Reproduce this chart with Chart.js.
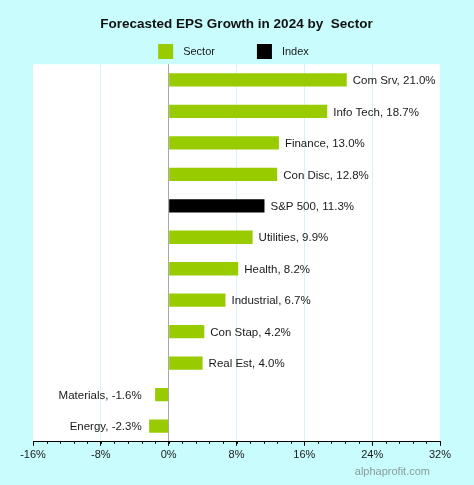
<!DOCTYPE html>
<html>
<head>
<meta charset="utf-8">
<script src="https://cdn.jsdelivr.net/npm/chart.js@4.4.1/dist/chart.umd.min.js"></script>
<style>
  html, body { margin: 0; padding: 0; background: #c8fcfd; }
  canvas { display: block; }
</style>
</head>
<body>
<canvas id="eps-chart" width="474" height="485"></canvas>
<script>
// ------------------------------------------------------
// @Data
// ------------------------------------------------------
const categories = ['Com Srv', 'Info Tech', 'Finance', 'Con Disc', 'S&P 500', 'Utilities',
                    'Health', 'Industrial', 'Con Stap', 'Real Est', 'Materials', 'Energy'];
const growth     = [21.0, 18.7, 13.0, 12.8, 11.3, 9.9, 8.2, 6.7, 4.2, 4.0, -1.6, -2.3];
const indexName  = 'S&P 500';
const xTicks     = [-16, -8, 0, 8, 16, 24, 32];

const sectorData = growth.map((v, i) => categories[i] === indexName ? null : v);
const indexData  = growth.map((v, i) => categories[i] === indexName ? v : null);

const COLORS = {
  sector : '#99cc00',
  index  : '#000000',
  grid   : '#d6f3fb',
  zero   : '#a8a8a8',
  text   : '#1a1a1a',
};

// white plot area on the cyan page
const plotBackground = {
  id: 'plotBackground',
  beforeDraw(chart) {
    const { ctx, chartArea: a } = chart;
    ctx.save();
    ctx.fillStyle = '#ffffff';
    ctx.fillRect(a.left, a.top, a.right - a.left, a.bottom - a.top);
    ctx.restore();
  },
};

// minor ticks under the x axis + watermark + legend
const extras = {
  id: 'extras',
  afterDraw(chart) {
    const { ctx, chartArea: a } = chart;
    const x = chart.scales.x;
    ctx.save();

    // minor ticks, five per major step
    ctx.strokeStyle = '#000';
    ctx.lineWidth = 1;
    const minor = 8 / 5;
    for (let v = x.min; v <= x.max + 0.001; v += minor) {
      const px = Math.round(x.getPixelForValue(v)) + 0.5;
      ctx.beginPath();
      ctx.moveTo(px, a.bottom);
      ctx.lineTo(px, a.bottom + 2);
      ctx.stroke();
    }

    // legend
    ctx.font = '11px Arial, "Liberation Sans", sans-serif';
    ctx.textBaseline = 'middle';
    const items = chart.data.datasets.map(ds => ({ text: ds.label, color: ds.backgroundColor,
      w: 15 + 10 + ctx.measureText(ds.label).width }));
    const gap = 42;
    const total = items.reduce((s, it) => s + it.w, 0) + gap * (items.length - 1);
    let lx = (a.left + a.right) / 2 - 3 - total / 2;
    const ly = 44;
    items.forEach(it => {
      ctx.fillStyle = it.color;
      ctx.fillRect(lx, ly, 15, 15);
      ctx.fillStyle = COLORS.text;
      ctx.textAlign = 'left';
      ctx.fillText(it.text, lx + 25, ly + 8);
      lx += it.w + gap;
    });

    // watermark
    ctx.fillStyle = '#8c9a9a';
    ctx.textAlign = 'right';
    ctx.fillText('alphaprofit.com', 430, 472);
    ctx.restore();
  },
};

// value labels next to the bar ends
const barLabels = {
  id: 'barLabels',
  afterDatasetsDraw(chart) {
    const { ctx } = chart;
    const zero = chart.scales.x.getPixelForValue(0);
    ctx.save();
    ctx.font = '11.5px Arial, "Liberation Sans", sans-serif';
    ctx.fillStyle = COLORS.text;
    ctx.textBaseline = 'middle';
    chart.data.datasets.forEach((ds, di) => {
      chart.getDatasetMeta(di).data.forEach((bar, i) => {
        const v = ds.data[i];
        if (v === null) return;
        const txt = categories[i] + ', ' + v.toFixed(1) + '%';
        if (v >= 0) {
          ctx.textAlign = 'left';
          ctx.fillText(txt, bar.x + 6, bar.y + 1);
        } else {
          ctx.textAlign = 'right';
          ctx.fillText(txt, zero - 27, bar.y + 1);
        }
      });
    });
    ctx.restore();
  },
};

const ctx = document.getElementById('eps-chart').getContext('2d');

new Chart(ctx, {
  type: 'bar',
  data: {
    labels: categories,
    datasets: [{
      label           : 'Sector',
      data            : sectorData,
      backgroundColor : COLORS.sector,
      grouped         : false,
    }, {
      label           : 'Index',
      data            : indexData,
      backgroundColor : COLORS.index,
      grouped         : false,
    }],
  },
  options: {
    indexAxis: 'y',
    responsive: false,
    animation: false,
    barPercentage: 0.9,
    categoryPercentage: 0.47,
    layout: {
      padding: { left: 33, right: 34, top: 0, bottom: 20 },
    },
    plugins: {
      legend: { display: false },
      tooltip: { enabled: false },
      title: {
        display: true,
        text: 'Forecasted EPS Growth in 2024 by  Sector',
        color: '#111',
        font: { family: 'Arial, "Liberation Sans", sans-serif', size: 13.5, weight: 'bold' },
        padding: { top: 16, bottom: 32 },
      },
    },
    scales: {
      x: {
        min: -16,
        max: 32,
        afterBuildTicks: (scale) => { scale.ticks = xTicks.map(v => ({ value: v })); },
        ticks: {
          color: COLORS.text,
          padding: 3,
          maxRotation: 0,
          font: { family: 'Arial, "Liberation Sans", sans-serif', size: 11 },
          callback: (v) => v + '%',
        },
        grid: {
          color: (c) => {
            const v = c.tick ? c.tick.value : null;
            if (v === 0) return COLORS.zero;
            if (v === -16 || v === 32) return 'rgba(0,0,0,0)';
            return COLORS.grid;
          },
          tickColor: '#000',
          tickLength: 4,
        },
        border: { color: '#000', width: 1 },
      },
      y: {
        display: false,
      },
    },
  },
  plugins: [plotBackground, barLabels, extras],
});
</script>
</body>
</html>
